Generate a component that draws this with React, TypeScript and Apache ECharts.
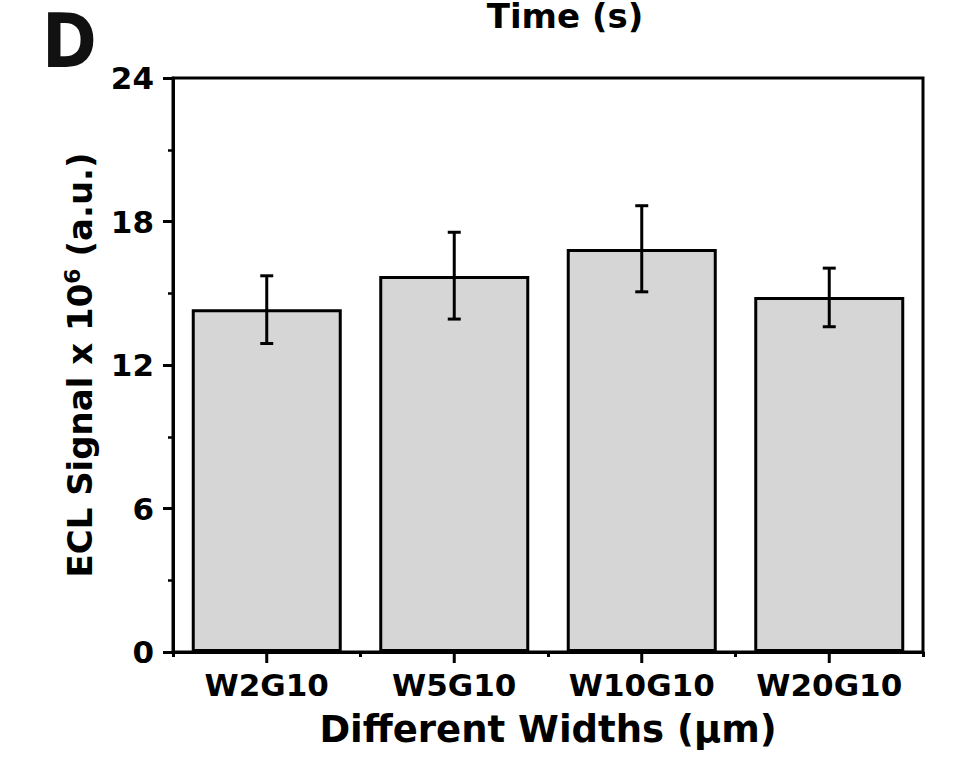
import React, { useEffect, useRef } from "react";
import * as echarts from "echarts";

const categories = ["W2G10", "W5G10", "W10G10", "W20G10"];
const signalValues = [14.33, 15.72, 16.85, 14.84];
const errorLow = [12.9, 13.92, 15.06, 13.6];
const errorHigh = [15.73, 17.55, 18.66, 16.05];
const yTicks = { min: 0, max: 24, interval: 6 };

const FONT = "'DejaVu Sans', sans-serif";

export default function App() {
  const ref = useRef<HTMLDivElement>(null);
  useEffect(() => {
    if (!ref.current) return;
    const chart = echarts.init(ref.current, null, { renderer: "svg" });
    const errData = categories.map((_, i) => [i, errorLow[i], errorHigh[i]]);
    const baseGraphics: any[] = [
      {
        id: "panelD",
        type: "text",
        x: 42,
        y: 41,
        scaleX: 0.88,
        style: {
          text: "D",
          font: `bold 75px ${FONT}`,
          lineHeight: 44,
          fill: "#111",
          textVerticalAlign: "middle",
        },
      },
      {
        id: "timeTitle",
        type: "text",
        x: 565,
        y: -1,
        style: {
          text: "Time (s)",
          font: `bold 34px ${FONT}`,
          lineHeight: 34,
          fill: "#000",
          textAlign: "center",
          textVerticalAlign: "top",
        },
      },
    ];
    chart.setOption({
      animation: false,
      backgroundColor: "#ffffff",
      grid: {
        left: 173,
        right: 36,
        top: 78,
        bottom: 106,
        show: true,
        borderColor: "#000",
        borderWidth: 3,
        backgroundColor: "transparent",
      },
      graphic: baseGraphics,
      xAxis: {
        type: "category",
        data: categories,
        axisLine: { lineStyle: { color: "#000", width: 3 } },
        axisTick: { show: true, interval: 0, length: 5, lineStyle: { width: 3, color: "#000" } },
        axisLabel: {
          interval: 0,
          margin: 17,
          color: "#000",
          fontFamily: FONT,
          fontWeight: "bold",
          fontSize: 31,
        },
        name: "Different Widths (μm)",
        nameLocation: "middle",
        nameGap: 59,
        nameTextStyle: { color: "#000", fontFamily: FONT, fontWeight: "bold", fontSize: 37 },
      },
      yAxis: {
        type: "value",
        min: yTicks.min,
        max: yTicks.max,
        interval: yTicks.interval,
        splitLine: { show: false },
        axisLine: { show: true, lineStyle: { color: "#000", width: 3 } },
        axisTick: { show: true, length: 10, lineStyle: { width: 3, color: "#000" } },
        minorTick: { show: true, splitNumber: 2, length: 5, lineStyle: { width: 2.5, color: "#000" } },
        axisLabel: {
          margin: 19,
          color: "#000",
          fontFamily: FONT,
          fontWeight: "bold",
          fontSize: 31,
        },
        name: "{a|ECL Signal x 10}{s|6}{a| (a.u.)}",
        nameLocation: "middle",
        nameGap: 74,
        nameRotate: 90,
        nameTextStyle: {
          color: "#000",
          rich: {
            a: { fontFamily: FONT, fontWeight: "bold", fontSize: 34, color: "#000" },
            s: {
              fontFamily: FONT,
              fontWeight: "bold",
              fontSize: 22,
              color: "#000",
              verticalAlign: "top",
              padding: [0, 0, 16, 0],
            },
          },
        },
      },
      series: [
        {
          type: "bar",
          data: signalValues,
          barWidth: "80%",
          itemStyle: { color: "#d6d6d6", borderColor: "#000", borderWidth: 3 },
        },
        {
          type: "custom",
          data: errData,
          z: 10,
          renderItem: (params: any, api: any) => {
            const x = api.value(0);
            const lo = api.coord([x, api.value(1)]);
            const hi = api.coord([x, api.value(2)]);
            const hw = 6.5;
            const style = { stroke: "#000", lineWidth: 3 };
            return {
              type: "group",
              children: [
                { type: "line", shape: { x1: lo[0], y1: lo[1], x2: hi[0], y2: hi[1] }, style },
                { type: "line", shape: { x1: lo[0] - hw, y1: lo[1], x2: lo[0] + hw, y2: lo[1] }, style },
                { type: "line", shape: { x1: hi[0] - hw, y1: hi[1], x2: hi[0] + hw, y2: hi[1] }, style },
              ],
            };
          },
        },
      ],
    });
    // major x ticks at category centres, positioned through the chart's own scales
    const tickGraphics: any[] = [];
    categories.forEach((_, i) => {
      const p = chart.convertToPixel({ xAxisIndex: 0, yAxisIndex: 0 }, [i, 0]) as any;
      if (p && isFinite(p[0]) && isFinite(p[1])) {
        tickGraphics.push({
          id: "ctick" + i,
          type: "rect",
          z: 100,
          shape: { x: p[0] - 1.5, y: p[1], width: 3, height: 11 },
          style: { fill: "#000" },
        });
      }
    });
    chart.setOption({ graphic: baseGraphics.concat(tickGraphics) });
    return () => chart.dispose();
  }, []);
  return (
    <div
      ref={ref}
      style={{ position: "absolute", left: 0, top: 0, width: 959, height: 758 }}
    />
  );
}
